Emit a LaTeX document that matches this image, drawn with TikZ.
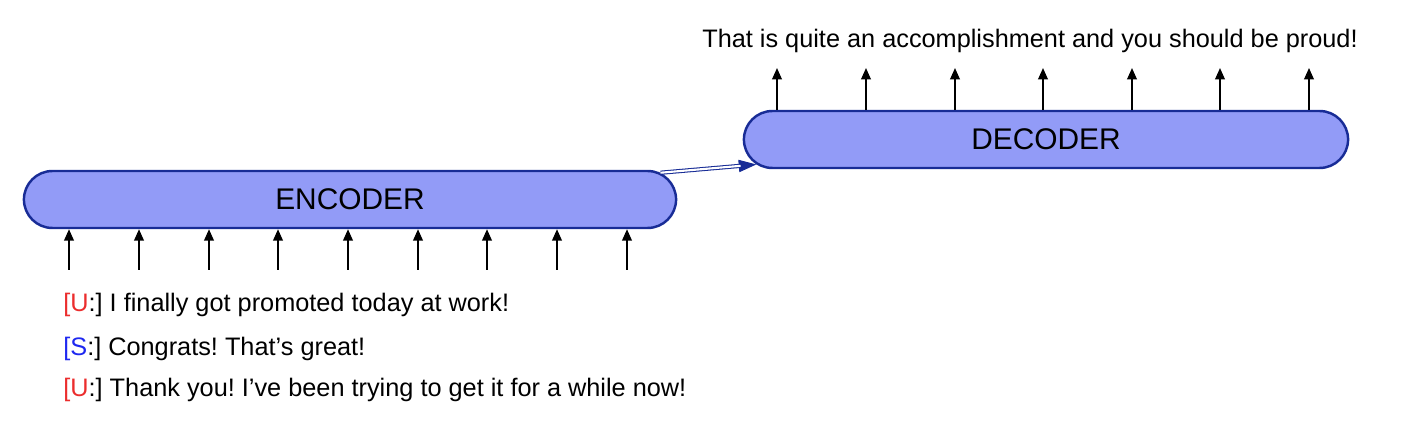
\documentclass[tikz,border=0pt]{standalone}
\usepackage{fontspec}
\setmainfont{Liberation Sans}
\usetikzlibrary{arrows.meta, shapes.misc}
\definecolor{blockfill}{RGB}{146,155,247}
\definecolor{blockline}{RGB}{24,44,150}
\definecolor{userred}{RGB}{235,45,45}
\definecolor{sysblue}{RGB}{30,40,240}
\frenchspacing

\begin{document}
\begin{tikzpicture}[x=0.02cm, y=-0.02cm,
  block/.style={rounded rectangle, draw=blockline, fill=blockfill, line width=1.4pt,
    minimum height=1.14cm, font=\fontsize{17}{20}\selectfont},
  tok/.style={-{Triangle[length=6.5pt,width=5.5pt]}, line width=1pt},
  turn/.style={anchor=base west, inner sep=0pt, font=\fontsize{14.4}{17}\selectfont}]
\useasboundingbox (0,0) rectangle (1404,438);
\node[block, minimum width=13.28cm] (1) at (350,199.5) {ENCODER};
\node[block, minimum width=12.32cm] (2) at (1046,139.5) {DECODER};
\draw[blockline, line width=0.6pt, -{Triangle[length=10pt,width=7pt]}] (1) -- (2);
\draw[blockline, line width=0.6pt, double=white, double distance=1.2pt, shorten >=9pt] (1) -- (2);
\foreach \x in {69,139,209,278,348,418,487,557,627} {
  \coordinate (in\x) at (\x,270);
  \draw[tok] (in\x) -- (in\x |- 1.south);
}
\foreach \x in {777,866,955,1043,1132,1220,1309} {
  \coordinate (out\x) at (\x,68);
  \draw[tok] (out\x |- 2.north) -- (out\x);
}
\node[anchor=base, inner sep=0pt, font=\fontsize{14.4}{17}\selectfont] (6) at (1030,48) {That is quite an accomplishment and you should be proud!};
\node[turn] (3) at (63,312) {\textcolor{userred}{[U}:] I finally got promoted today at work!};
\node[turn] (4) at (63,356) {\textcolor{sysblue}{[S}:] Congrats! That’s great!};
\node[turn] (5) at (63,397) {\textcolor{userred}{[U}:] Thank you! I’ve been trying to get it for a while now!};
\end{tikzpicture}
\end{document}
